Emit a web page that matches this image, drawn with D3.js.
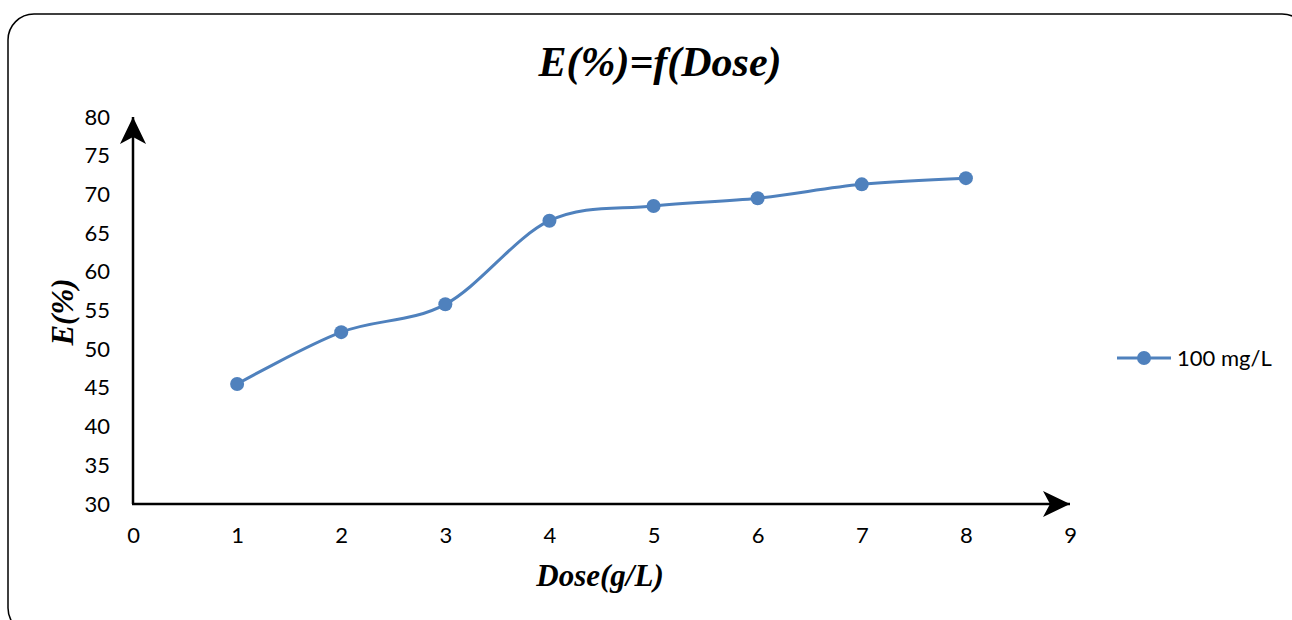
<!DOCTYPE html>
<html>
<head>
<meta charset="utf-8">
<script src="https://cdn.jsdelivr.net/npm/d3@7"></script>
<style>
  html, body { margin: 0; padding: 0; background: #fff; }
  svg { display: block; }
</style>
</head>
<body>
<div id="chart"></div>
<script>
// 資料
const doses = [1, 2, 3, 4, 5, 6, 7, 8]
const efficiency = [45.5, 52.2, 55.8, 66.6, 68.5, 69.5, 71.3, 72.1]
const xTicks = [0, 1, 2, 3, 4, 5, 6, 7, 8, 9]
const yTicks = [30, 35, 40, 45, 50, 55, 60, 65, 70, 75, 80]
const seriesName = '100 mg/L'

const width = 1292
const height = 620
const color = '#4F81BD'
const tickFont = 'Lato, "Open Sans", sans-serif'
const serif = '"Liberation Serif", "Times New Roman", serif'

const svg = d3.select('#chart').append('svg')
  .attr('width', width)
  .attr('height', height)

// 外框
svg.append('rect')
  .attr('x', 8).attr('y', 14)
  .attr('width', 1300).attr('height', 620)
  .attr('rx', 26)
  .attr('fill', '#fff')
  .attr('stroke', '#000')
  .attr('stroke-width', 1.5)

const x = d3.scaleLinear().domain([0, 9]).range([133, 1070])
const y = d3.scaleLinear().domain([30, 80]).range([504, 117])

// 箭頭
const defs = svg.append('defs')
defs.append('marker')
  .attr('id', 'arrow')
  .attr('viewBox', '0 0 28 28')
  .attr('refX', 27).attr('refY', 14)
  .attr('markerWidth', 28).attr('markerHeight', 28)
  .attr('markerUnits', 'userSpaceOnUse')
  .attr('orient', 'auto')
  .append('path')
  .attr('d', 'M0,1 L27,14 L0,27 L7,14 Z')
  .attr('fill', '#000')

/** =========================
 * 座標軸
 ========================= */
const yAxis = d3.axisLeft(y).tickValues(yTicks).tickSize(0).tickPadding(23)
const xAxis = d3.axisBottom(x).tickValues(xTicks).tickSize(0).tickPadding(23)

const gy = svg.append('g').attr('transform', `translate(${x(0)},0)`).call(yAxis)
gy.select('.domain').remove()
gy.selectAll('text').style('font-family', tickFont).style('font-size', '22px').attr('fill', '#000')

const gx = svg.append('g').attr('transform', `translate(0,${y(30)})`).call(xAxis)
gx.select('.domain').remove()
gx.selectAll('text').style('font-family', tickFont).style('font-size', '22px').attr('fill', '#000')

svg.append('line')
  .attr('x1', x(0)).attr('y1', y(30))
  .attr('x2', x(0)).attr('y2', y(80))
  .attr('stroke', '#000').attr('stroke-width', 2.5)
  .attr('marker-end', 'url(#arrow)')

svg.append('line')
  .attr('x1', x(0) - 1).attr('y1', y(30))
  .attr('x2', x(9)).attr('y2', y(30))
  .attr('stroke', '#000').attr('stroke-width', 2.5)
  .attr('marker-end', 'url(#arrow)')

/** =========================
 * 折線與標記
 ========================= */
const points = doses.map((d, i) => [d, efficiency[i]])
const line = d3.line()
  .x(d => x(d[0]))
  .y(d => y(d[1]))
  .curve(d3.curveCardinal.tension(0))

svg.append('path')
  .datum(points)
  .attr('d', line)
  .attr('fill', 'none')
  .attr('stroke', color)
  .attr('stroke-width', 3)

svg.append('g')
  .selectAll('circle')
  .data(points)
  .join('circle')
  .attr('cx', d => x(d[0]))
  .attr('cy', d => y(d[1]))
  .attr('r', 7)
  .attr('fill', color)

/** =========================
 * 標題
 ========================= */
svg.append('text')
  .attr('x', 660).attr('y', 76)
  .attr('text-anchor', 'middle')
  .style('font-family', serif)
  .style('font-weight', 'bold')
  .style('font-style', 'italic')
  .style('font-size', '42px')
  .text('E(%)=f(Dose)')

svg.append('text')
  .attr('x', 600).attr('y', 586)
  .attr('text-anchor', 'middle')
  .style('font-family', serif)
  .style('font-weight', 'bold')
  .style('font-style', 'italic')
  .style('font-size', '31px')
  .text('Dose(g/L)')

svg.append('text')
  .attr('transform', 'translate(73,312) rotate(-90)')
  .attr('text-anchor', 'middle')
  .style('font-family', serif)
  .style('font-weight', 'bold')
  .style('font-style', 'italic')
  .style('font-size', '31px')
  .text('E(%)')

/** =========================
 * 圖例
 ========================= */
const legend = svg.append('g').attr('transform', 'translate(1117,358)')
legend.append('line')
  .attr('x1', 0).attr('x2', 54)
  .attr('stroke', color).attr('stroke-width', 3)
legend.append('circle').attr('cx', 27).attr('r', 7).attr('fill', color)
legend.append('text')
  .attr('x', 60).attr('y', 8)
  .style('font-family', tickFont)
  .style('font-size', '22px')
  .text(seriesName)
</script>
</body>
</html>
